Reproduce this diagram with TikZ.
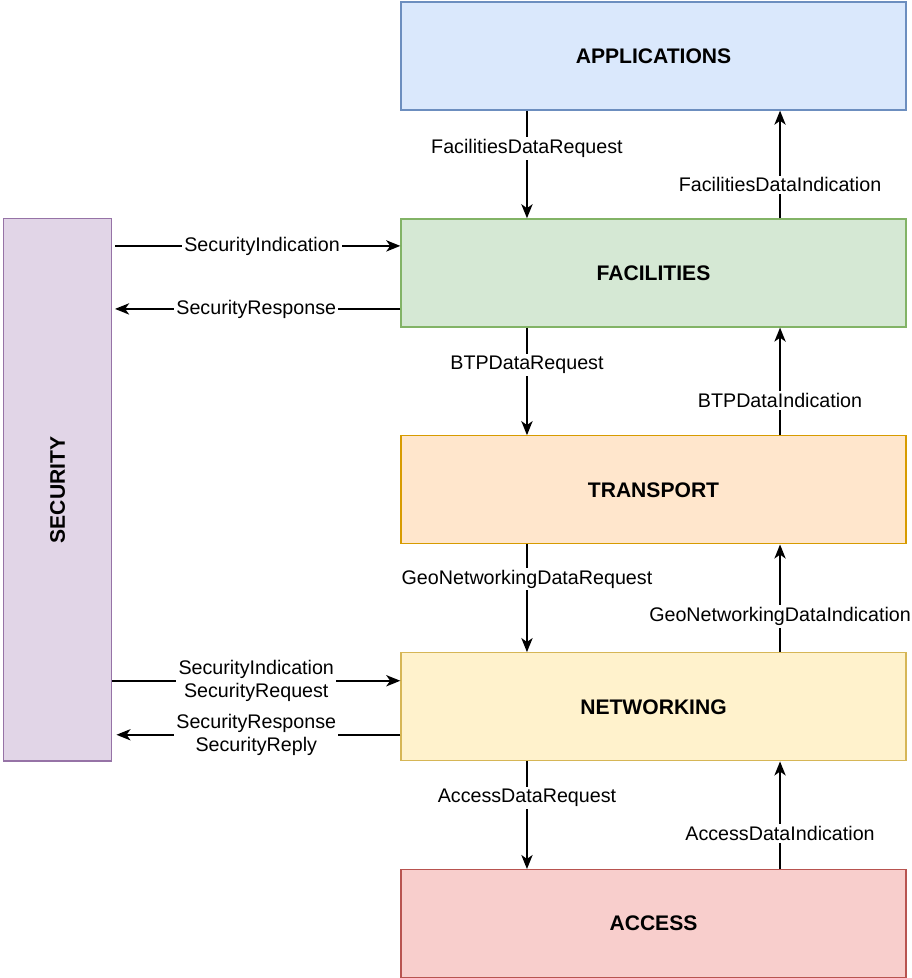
\documentclass[tikz,border=0pt]{standalone}
\usepackage{fontspec}
\setmainfont{Liberation Sans}
\usetikzlibrary{positioning, arrows.meta}

\definecolor{appfill}{HTML}{DAE8FC}
\definecolor{appline}{HTML}{6C8EBF}
\definecolor{facfill}{HTML}{D5E8D4}
\definecolor{facline}{HTML}{82B366}
\definecolor{trafill}{HTML}{FFE6CC}
\definecolor{traline}{HTML}{D79B00}
\definecolor{netfill}{HTML}{FFF2CC}
\definecolor{netline}{HTML}{D6B656}
\definecolor{accfill}{HTML}{F8CECC}
\definecolor{accline}{HTML}{B85450}
\definecolor{secfill}{HTML}{E1D5E7}
\definecolor{secline}{HTML}{9673A6}

\begin{document}
\begin{tikzpicture}[
    x=0.025cm, y=-0.025cm,
    node distance=2.69cm and 7.2cm,
    layer/.style={draw, rectangle, minimum width=12.625cm, minimum height=2.7cm, align=center, line width=0.9pt, font=\fontsize{15}{18}\selectfont\bfseries},
    arrow/.style={-{Stealth[length=10pt, width=8pt, inset=2.8pt]}, line width=1.3pt},
    lbl/.style={fill=white, inner sep=1.5pt, align=center, font=\fontsize{14}{16.4}\selectfont},
]
\useasboundingbox (0,0) rectangle (912,978);

% Protocol stack
\node[layer, fill=appfill, draw=appline] (apps) at (653.5,56) {APPLICATIONS};
\node[layer, fill=facfill, draw=facline, below=of apps] (fac) {FACILITIES};
\node[layer, fill=trafill, draw=traline, below=of fac] (trans) {TRANSPORT};
\node[layer, fill=netfill, draw=netline, below=of trans] (net) {NETWORKING};
\node[layer, fill=accfill, draw=accline, below=of net] (acc) {ACCESS};

% Security entity
\node[draw=secline, fill=secfill, line width=0.9pt, minimum width=2.7cm, minimum height=13.55cm, left=of trans] (sec) {};
\node[rotate=90, font=\fontsize{15}{18}\selectfont\bfseries] (sectext) at (sec) {SECURITY};

% Requests (down) and indications (up)
\draw[arrow] ([xshift=-3.1625cm]apps.south) -- node[lbl, pos=0.35] {FacilitiesDataRequest} ([xshift=-3.1625cm]fac.north);
\draw[arrow] ([xshift=3.1625cm]fac.north) -- node[lbl, pos=0.31] {FacilitiesDataIndication} ([xshift=3.1625cm]apps.south);

\draw[arrow] ([xshift=-3.1625cm]fac.south) -- node[lbl, pos=0.35] {BTPDataRequest} ([xshift=-3.1625cm]trans.north);
\draw[arrow] ([xshift=3.1625cm]trans.north) -- node[lbl, pos=0.32] {BTPDataIndication} ([xshift=3.1625cm]fac.south);

\draw[arrow] ([xshift=-3.1625cm]trans.south) -- node[lbl, pos=0.32] {GeoNetworkingDataRequest} ([xshift=-3.1625cm]net.north);
\draw[arrow] ([xshift=3.1625cm]net.north) -- node[lbl, pos=0.33] {GeoNetworkingDataIndication} ([xshift=3.1625cm]trans.south);

\draw[arrow] ([xshift=-3.1625cm]net.south) -- node[lbl, pos=0.34] {AccessDataRequest} ([xshift=-3.1625cm]acc.north);
\draw[arrow] ([xshift=3.1625cm]acc.north) -- node[lbl, pos=0.33] {AccessDataIndication} ([xshift=3.1625cm]net.south);

% Security service access points
\coordinate (facin) at ([yshift=0.675cm]fac.west);
\coordinate (facout) at ([yshift=-0.9cm]fac.west);
\coordinate (netin) at ([yshift=0.65cm]net.west);
\coordinate (netout) at ([yshift=-0.7cm]net.west);

\draw[arrow, shorten <=2pt] (sec.east |- facin) -- node[lbl, pos=0.52] {SecurityIndication} (facin);
\draw[arrow, shorten >=2pt] (facout) -- node[lbl] {SecurityResponse} (sec.east |- facout);
\draw[arrow] (sec.east |- netin) -- node[lbl] {SecurityIndication\\SecurityRequest} (netin);
\draw[arrow, shorten >=3pt] (netout) -- node[lbl] {SecurityResponse\\SecurityReply} (sec.east |- netout);

\end{tikzpicture}
\end{document}
